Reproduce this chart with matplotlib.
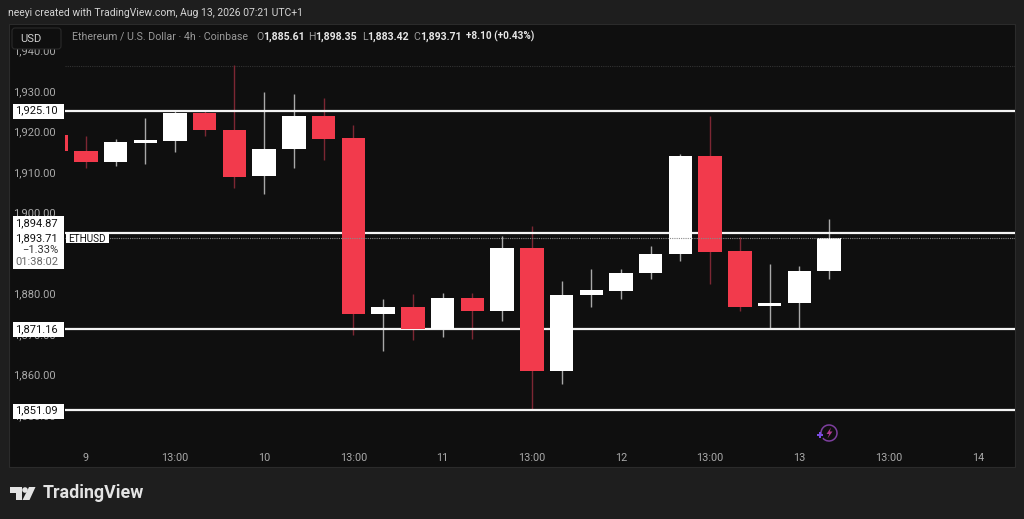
import matplotlib
matplotlib.use("Agg")
import matplotlib.pyplot as plt
from matplotlib.patches import Rectangle, Polygon, Circle, FancyBboxPatch, Arc

plt.rcParams['font.family'] = ['Roboto', 'DejaVu Sans']

# candles, first one is mostly hidden behind the price scale
opens = [1919.0, 1915.2, 1912.4, 1917.2, 1917.7, 1924.6, 1920.4, 1908.9, 1915.6, 1923.9, 1918.3,
         1874.9, 1876.7, 1871.1, 1878.9, 1875.7, 1891.3, 1860.9, 1879.5, 1880.6, 1884.9, 1889.7,
         1913.8, 1890.4, 1876.8, 1877.5, 1885.61]
highs = [1919.0, 1918.8, 1918.0, 1923.4, 1924.9, 1924.9, 1936.3, 1929.7, 1929.3, 1928.3, 1921.5,
         1878.7, 1879.8, 1880.0, 1880.1, 1894.1, 1896.5, 1883.0, 1886.1, 1886.1, 1891.6, 1914.3,
         1923.8, 1893.9, 1887.2, 1886.7, 1898.35]
lows = [1915.1, 1910.9, 1911.4, 1911.9, 1914.9, 1918.9, 1905.9, 1904.4, 1910.9, 1912.9, 1869.6,
        1865.8, 1868.4, 1869.1, 1868.6, 1873.1, 1851.1, 1857.7, 1876.7, 1878.7, 1883.5, 1887.9,
        1882.2, 1875.6, 1871.1, 1871.1, 1883.42]
closes = [1915.1, 1912.4, 1917.4, 1917.8, 1924.6, 1920.3, 1908.7, 1915.7, 1923.9, 1918.2, 1874.8,
          1876.7, 1871.1, 1878.9, 1875.7, 1891.3, 1860.9, 1879.7, 1880.7, 1884.9, 1889.8, 1913.8,
          1890.2, 1876.7, 1877.5, 1885.4, 1893.71]
bar_index = list(range(-1, 26))

level_prices = [1925.10, 1894.87, 1871.16, 1851.09]
level_labels = ['1,925.10', '1,871.16', '1,851.09']
tag_prices = [1925.10, 1871.16, 1851.09]
last_price = 1893.71
high_dotted = 1936.05

y_ticks = [1940, 1930, 1920, 1910, 1900, 1880, 1870, 1860, 1850]
x_ticks = [0, 3, 6, 9, 12, 15, 18, 21, 24, 27, 30]
x_labels = ['9', '13:00', '10', '13:00', '11', '13:00', '12', '13:00', '13', '13:00', '14']

outer_bg = '#1e1e1e'
panel_bg = '#0f0f0f'
red = '#f23a4c'
red_wick = '#7d2733'
white_wick = '#a8a8a8'
axis_text = '#a9a9a9'

W, H = 1024, 519
fig = plt.figure(figsize=(W / 100, H / 100), dpi=100, facecolor=outer_bg)


def pixel_axes(zorder):
    a = fig.add_axes([0, 0, 1, 1], zorder=zorder)
    a.set_xlim(0, W)
    a.set_ylim(H, 0)
    a.axis('off')
    a.patch.set_alpha(0)
    return a


back = pixel_axes(0)
back.add_patch(Rectangle((9, 24), 1006, 443, fc=panel_bg, ec='#2b2b2b', lw=0.8))

# price pane, the scale labels sit to its left and the time labels below
left, right, top, bottom = 65, 1015, 24, 443
x_min, x_max = -0.6996, 31.25
ax = fig.add_axes([left / W, 1 - bottom / H, (right - left) / W, (bottom - top) / H], zorder=1)
ax.patch.set_alpha(0)
ax.set_xlim(x_min, x_max)
ax.set_ylim(1843.04, 1946.50)
for s in ax.spines.values():
    s.set_visible(False)

for i, o, h, l, c in zip(bar_index, opens, highs, lows, closes):
    up = c >= o
    ax.vlines(i, l, h, color=white_wick if up else red_wick, lw=1.0, zorder=1)
    ax.bar(i, abs(c - o), bottom=min(o, c), width=0.79, color='#ffffff' if up else red, lw=0, zorder=3)

ax.hlines(level_prices, x_min, x_max, color='#f4f4f4', lw=1.6, zorder=2)
ax.axhline(last_price, color='#8a8a8a', lw=0.8, ls=(0, (1, 1)), zorder=4)
ax.axhline(high_dotted, color='#333333', lw=0.8, ls=(0, (1, 1)), zorder=0)

ax.set_yticks(y_ticks)
ax.set_yticklabels([f'{v:,.2f}' for v in y_ticks])
ax.set_xticks(x_ticks)
ax.set_xticklabels(x_labels)
ax.tick_params(axis='y', length=0, pad=7, labelsize=8, labelcolor=axis_text)
ax.tick_params(axis='x', length=0, pad=7, labelsize=7.8, labelcolor=axis_text)

# price tags on the scale
tag_tr = ax.get_yaxis_transform()
tag_x0 = (13 - left) / (right - left)
tag_w = (64 - 13) / (right - left)
text_x = (58 - left) / (right - left)
for p, lab in zip(tag_prices, level_labels):
    ax.add_patch(Rectangle((tag_x0, p - 2.05), tag_w, 3.75, transform=tag_tr, fc='white', lw=0,
                           clip_on=False, zorder=6))
    ax.text(text_x, p, lab, transform=tag_tr, ha='right', va='center', fontsize=8, color='#111111',
            clip_on=False, zorder=7)

ax.add_patch(Rectangle((tag_x0, last_price - 7.8), tag_w, 13.1, transform=tag_tr, fc='white', lw=0,
                       clip_on=False, zorder=6))
stack = [(1894.87 + 2.4, '1,894.87', '#111111'), (last_price, '1,893.71', '#111111'),
         (last_price - 3.1, '\u22121.33%', '#333333'), (last_price - 6.0, '01:38:02', '#666666')]
for p, lab, col in stack:
    ax.text(text_x, p, lab, transform=tag_tr, ha='right', va='center', fontsize=8, color=col,
            clip_on=False, zorder=7)
ax.add_patch(Rectangle((1 / (right - left), last_price - 1.4), 43 / (right - left), 2.8, transform=tag_tr,
                       fc='white', lw=0, zorder=6))
ax.text(22 / (right - left), last_price - 0.2, 'ETHUSD', transform=tag_tr, ha='center', va='center', fontsize=7.2,
        color='#111111', zorder=7)

front = pixel_axes(2)
# header hides the top of the scale
front.add_patch(Rectangle((10, 25), 1004, 24, fc=panel_bg, lw=0))
front.add_patch(FancyBboxPatch((12, 28), 49, 21, boxstyle='round,pad=0,rounding_size=3', fc=panel_bg,
                               ec='#2a2a2a', lw=0.8))
front.text(20, 38.5, 'USD', fontsize=8, color='#d0d0d0', va='center', ha='left')
front.text(8, 13.5, 'neeyi created with TradingView.com, Aug 13, 2026 07:21 UTC+1', fontsize=7.5,
           color='#d4d4d4', va='center', ha='left')
front.text(72, 36.5, 'Ethereum / U.S. Dollar \u00b7 4h \u00b7 Coinbase', fontsize=7.7, color='#9a9a9a', va='center')
legend_parts = [(256, 'O', '1,885.61'), (308.5, 'H', '1,898.35'), (362, 'L', '1,883.42'), (413, 'C', '1,893.71')]
for x, key, val in legend_parts:
    front.text(x, 36.5, key, fontsize=7.6, color='#9a9a9a', va='center')
    front.text(x + (5 if key == 'L' else 7), 36.5, val, fontsize=7.6, color='#e6e6e6', va='center',
               fontweight='bold')
front.text(466, 36.5, '+8.10 (+0.43%)', fontsize=7.2, color='#e6e6e6', va='center', fontweight='bold')

# TradingView logo
logo = '#e4e4e4'
front.add_patch(Polygon([(10, 487), (21.5, 487), (21.5, 500), (15.5, 500), (15.5, 493), (10, 493)], fc=logo, lw=0))
front.add_patch(Circle((25, 490), 2.8, fc=logo, lw=0))
front.add_patch(Polygon([(29, 487), (35.5, 487), (29.5, 500), (22.5, 500)], fc=logo, lw=0))
front.text(43, 493, 'TradingView', fontsize=12.8, color=logo, va='center', ha='left', fontweight='bold')

# purple bolt icon under the last bars
front.add_patch(Arc((829, 433), 16, 16, theta1=-200, theta2=140, ec='#7d3f9e', lw=1.1))
front.add_patch(Polygon([(831, 427.5), (826.5, 434), (829.2, 434), (827.5, 438.5), (832.5, 431.5), (829.8, 431.5)],
                        fc='#b0398f', lw=0))
front.plot([820], [435], marker='P', ms=5, color='#7a4be0', mew=0)

fig.savefig('out.png', dpi=100, facecolor=outer_bg)
